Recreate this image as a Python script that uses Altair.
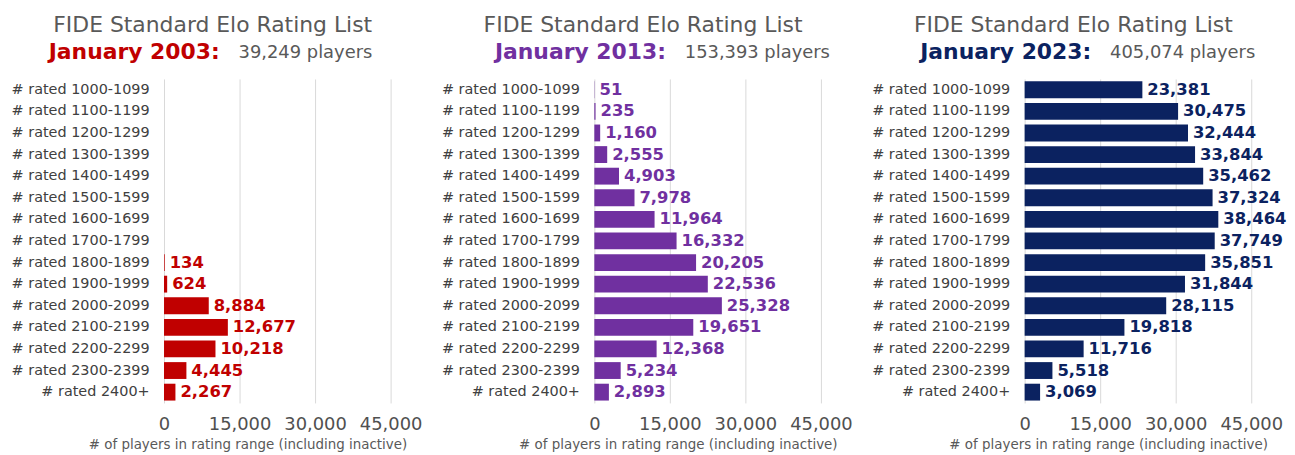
import altair as alt
import pandas as pd

categories = [
    "# rated 1000-1099", "# rated 1100-1199", "# rated 1200-1299", "# rated 1300-1399",
    "# rated 1400-1499", "# rated 1500-1599", "# rated 1600-1699", "# rated 1700-1799",
    "# rated 1800-1899", "# rated 1900-1999", "# rated 2000-2099", "# rated 2100-2199",
    "# rated 2200-2299", "# rated 2300-2399", "# rated 2400+",
]
values_2003 = [0, 0, 0, 0, 0, 0, 0, 0, 134, 624, 8884, 12677, 10218, 4445, 2267]
values_2013 = [51, 235, 1160, 2555, 4903, 7978, 11964, 16332, 20205, 22536, 25328, 19651, 12368, 5234, 2893]
values_2023 = [23381, 30475, 32444, 33844, 35462, 37324, 38464, 37749, 35851, 31844, 28115, 19818, 11716, 5518, 3069]
list_names = ["January 2003:", "January 2013:", "January 2023:"]
player_totals = ["39,249 players", "153,393 players", "405,074 players"]
main_title = "FIDE Standard Elo Rating List"
x_ticks = [0, 15000, 30000, 45000]
x_title = "# of players in rating range (including inactive)"

colors = ["#C00000", "#7030A0", "#0B2260"]
split_offsets = [56, 72, 67]
FONT = "DejaVu Sans"
W, H = 228, 326


def panel(values, name, total, color, split):
    df = pd.DataFrame({"range": categories, "value": values})
    df["label"] = df["value"].map(lambda v: f"{v:,}")
    base = alt.Chart(df)
    y = alt.Y("range:N", sort=categories, title=None,
              scale=alt.Scale(domain=categories, paddingInner=0.22, paddingOuter=0.11))
    x = alt.X("value:Q", scale=alt.Scale(domain=[0, 45000], nice=False),
              axis=alt.Axis(values=x_ticks, format=",d", title=x_title,
                            titleX=84, titleY=42, titleBaseline="middle"))
    bars = base.mark_bar(color=color).encode(x=x, y=y)
    labels = base.transform_filter("datum.value > 0").mark_text(
        align="left", baseline="middle", dx=5, font=FONT, fontSize=16.5,
        fontWeight="bold", color=color
    ).encode(x=x, y=y, text="label:N")
    tdf = pd.DataFrame({"t1": [main_title], "t2": [name], "t3": [total]})
    tb = alt.Chart(tdf)
    t1 = tb.mark_text(font=FONT, fontSize=22, color="#595959", align="center",
                      baseline="middle").encode(x=alt.value(49), y=alt.value(-54), text="t1:N")
    t2 = tb.mark_text(font=FONT, fontSize=22, fontWeight="bold", color=color, align="right",
                      baseline="middle").encode(x=alt.value(split), y=alt.value(-27), text="t2:N")
    t3 = tb.mark_text(font=FONT, fontSize=18, color="#595959", align="left",
                      baseline="middle").encode(x=alt.value(split + 19), y=alt.value(-26), text="t3:N")
    return alt.layer(bars, labels, t1, t2, t3).properties(width=W, height=H)


all_values = [values_2003, values_2013, values_2023]
panels = [panel(all_values[i], list_names[i], player_totals[i], colors[i], split_offsets[i])
          for i in range(3)]

chart = alt.hconcat(*panels, spacing=205, bounds="flush").properties(
    padding={"left": 2, "top": 5, "right": 0, "bottom": 5}
).configure_view(
    stroke=None
).configure_axisX(
    labelFont=FONT, labelFontSize=18, labelColor="#505050", labelFlush=False,
    labelPadding=13, tickSize=0, ticks=False, domain=False,
    grid=True, gridColor="#d9d9d9", gridWidth=1,
    titleFont=FONT, titleFontSize=13.5, titleFontWeight="normal", titleColor="#595959",
).configure_axisY(
    labelFont=FONT, labelFontSize=14.5, labelColor="#404040", labelPadding=15,
    ticks=False, tickSize=0, domain=False, labelLimit=300,
)

chart.save("out.html", embed_options={"renderer": "svg", "actions": False})
